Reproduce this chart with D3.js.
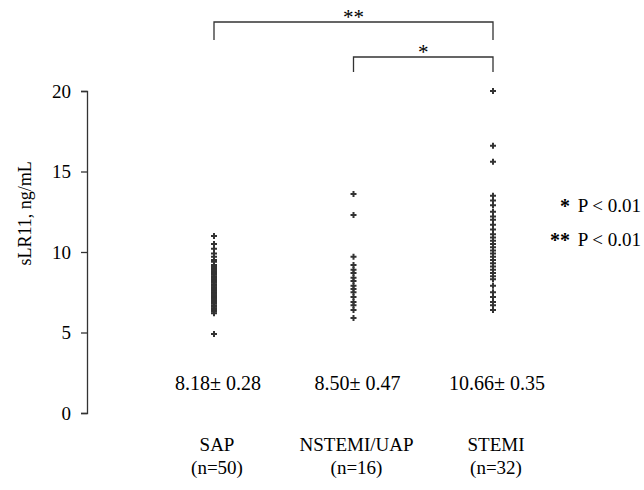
<!DOCTYPE html>
<html>
<head>
<meta charset="utf-8">
<script src="https://cdn.jsdelivr.net/npm/d3@7"></script>
<style>
  body { margin: 0; background: #fff; }
  text { font-family: "Liberation Serif", "Times New Roman", serif; fill: #000; }
</style>
</head>
<body>
<div id="chart"></div>
<script>
(() => {

  let groups = ["SAP", "NSTEMI/UAP", "STEMI"]
  let groupN = ["(n=50)", "(n=16)", "(n=32)"]
  let groupMean = ["8.18", "8.50", "10.66"]
  let groupSem = ["0.28", "0.47", "0.35"]
  let yTicks = [0, 5, 10, 15, 20]

  let sapValues = [11.0, 10.5, 10.2, 9.9, 9.7, 9.5, 9.4, 9.2, 9.1, 9.0,
    8.9, 8.8, 8.7, 8.6, 8.5, 8.4, 8.3, 8.2, 8.1, 8.0,
    7.9, 7.8, 7.7, 7.6, 7.5, 7.4, 7.3, 7.2, 7.1, 7.0,
    6.9, 6.8, 6.7, 6.6, 6.5, 6.4, 6.3, 6.2, 8.6, 8.3,
    7.9, 7.6, 7.3, 7.0, 8.8, 8.1, 7.7, 6.9, 7.4, 4.9]
  let nstemiValues = [13.6, 12.3, 9.7, 9.2, 8.9, 8.7, 8.4, 8.2, 7.9,
    7.7, 7.5, 7.2, 6.9, 6.7, 6.4, 5.9]
  let stemiValues = [20.0, 16.6, 15.6, 13.5, 13.2, 12.9, 12.5, 12.2, 12.0,
    11.7, 11.4, 11.1, 10.9, 10.7, 10.5, 10.3, 10.1, 9.9, 9.7, 9.5,
    9.3, 9.1, 8.9, 8.7, 8.5, 8.3, 7.9, 7.5, 7.2, 6.9, 6.7, 6.4]
  let allValues = [sapValues, nstemiValues, stemiValues]

  let legendLines = ["P < 0.01", "P < 0.01"]
  let legendMarks = ["*", "**"]

  let svg = d3.select("#chart")
  .append("svg")
  .attr("width", 644)
  .attr("height", 490)

  let y = d3.scaleLinear()
  .domain([0, 20])
  .range([413, 91])

  let x = d3.scalePoint()
  .domain(groups)
  .range([214, 493])

  // Y axis
  let axis = svg.append("g")
  .attr("transform", "translate(87,0)")
  .call(d3.axisLeft(y).tickValues(yTicks).tickSize(6).tickPadding(10))
  axis.select(".domain").attr("stroke", "#333").attr("stroke-width", 1.3)
  axis.selectAll(".tick line").attr("stroke", "#333").attr("stroke-width", 1.3)
  axis.selectAll(".tick text")
  .style("font-family", "Liberation Serif")
  .style("font-size", "19px")
  .attr("fill", "#000")

  svg.append("text")
  .attr("transform", "translate(31," + y(12.4) + ") rotate(-90)")
  .text("sLR11, ng/mL")
  .style("text-anchor", "middle")
  .style("font-size", "18px")

  // Points
  let sym = d3.symbol().type(d3.symbolCross).size(20)
  allValues.forEach((vals, gi) => {
    svg.append("g")
    .selectAll("path")
    .data(vals)
    .enter()
    .append("path")
    .attr("d", sym)
    .attr("transform", d => "translate(" + x(groups[gi]) + "," + y(d) + ")")
    .attr("fill", "#333")
  })

  // Mean +- SEM
  svg.selectAll(".mean")
  .data(groups)
  .enter()
  .append("text")
  .attr("x", d => x(d) + 4)
  .attr("y", 390)
  .text((d, i) => groupMean[i] + "± " + groupSem[i])
  .style("text-anchor", "middle")
  .style("font-size", "20px")

  // Category labels
  svg.selectAll(".cat")
  .data(groups)
  .enter()
  .append("text")
  .attr("x", d => x(d) + 3)
  .attr("y", 451)
  .text(d => d)
  .style("text-anchor", "middle")
  .style("font-size", "19px")
  svg.selectAll(".n")
  .data(groups)
  .enter()
  .append("text")
  .attr("x", d => x(d) + 3)
  .attr("y", 474)
  .text((d, i) => groupN[i])
  .style("text-anchor", "middle")
  .style("font-size", "19px")

  // Significance brackets
  let brackets = [
    {a: "SAP", b: "STEMI", top: 22, bottom: 40, label: "**"},
    {a: "NSTEMI/UAP", b: "STEMI", top: 57, bottom: 72, label: "*"}
  ]
  brackets.forEach(br => {
    svg.append("path")
    .attr("d", "M" + x(br.a) + "," + br.bottom + "V" + br.top + "H" + x(br.b) + "V" + br.bottom)
    .attr("fill", "none")
    .attr("stroke", "#333")
    .attr("stroke-width", 1.3)
    svg.append("text")
    .attr("x", (x(br.a) + x(br.b)) / 2)
    .attr("y", br.top + 2)
    .text(br.label)
    .style("text-anchor", "middle")
    .style("font-size", "21px")
  })

  // Legend
  svg.selectAll(".legend")
  .data(legendLines)
  .enter()
  .append("text")
  .attr("x", 641)
  .attr("y", (d, i) => 212 + i * 34)
  .text(d => d)
  .style("text-anchor", "end")
  .style("font-size", "19px")
  svg.selectAll(".legendMark")
  .data(legendMarks)
  .enter()
  .append("text")
  .attr("x", 570)
  .attr("y", (d, i) => 213 + i * 34)
  .text(d => d)
  .style("text-anchor", "end")
  .style("font-size", "20px")
  .style("font-weight", "bold")

})()
</script>
</body>
</html>
